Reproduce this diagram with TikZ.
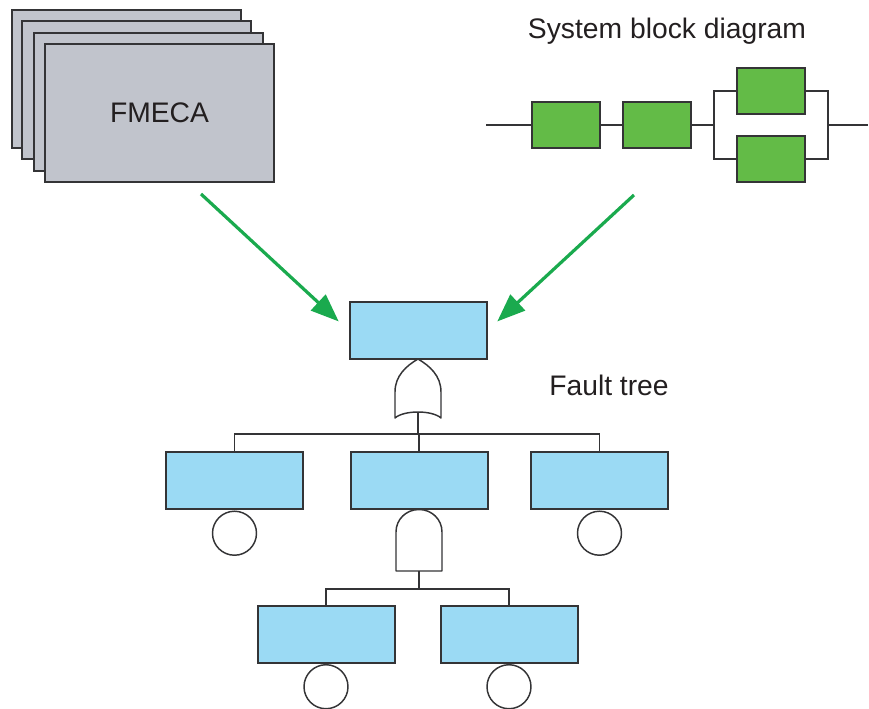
\documentclass[tikz,border=0pt]{standalone}
\usepackage{fontspec}
\setmainfont{Liberation Sans}
\usetikzlibrary{arrows.meta}
\definecolor{inkline}{RGB}{52,52,54}
\definecolor{sheetgray}{RGB}{193,196,204}
\definecolor{blockgreen}{RGB}{99,187,71}
\definecolor{eventblue}{RGB}{155,218,244}
\definecolor{flowgreen}{RGB}{26,170,78}
\definecolor{textdark}{RGB}{35,31,32}
\begin{document}
\begin{tikzpicture}[x=0.75pt,y=-0.75pt,
  sheet/.style={draw=inkline, line width=1.5pt, fill=sheetgray, inner sep=0pt,
    minimum width=171.75pt, minimum height=103.5pt},
  rbd/.style={draw=inkline, line width=1.5pt, fill=blockgreen, inner sep=0pt,
    minimum width=51.5pt, minimum height=34.5pt},
  event/.style={draw=inkline, line width=1.5pt, fill=eventblue, inner sep=0pt,
    minimum width=102.75pt, minimum height=42.75pt},
  basic/.style={circle, draw=inkline, line width=1.1pt, fill=white, inner sep=0pt,
    minimum size=33pt},
  wire/.style={draw=inkline, line width=1.1pt},
  gate/.style={draw=inkline, line width=1.1pt, fill=white, line join=round},
  flow/.style={draw=flowgreen, line width=2.4pt,
    -{Triangle[length=21pt,width=16pt]}, shorten >=10pt},
  lbl/.style={text=textdark, font=\fontsize{21.2}{25}\selectfont, inner sep=0pt}
]
\useasboundingbox (0,0) rectangle (869,709);

% FMECA worksheet stack
\node[sheet] (fm1) at (126,79.5) {};
\node[sheet] (fm2) at (136.5,90) {};
\node[sheet] (fm3) at (148,102) {};
\node[sheet] (fm4) at (159.5,113) {};
\node[lbl] (fmlabel) at (fm4.center) {FMECA};

% System block diagram
\node[lbl] (sbdtitle) at (667,31) {System block diagram};
\coordinate (rbdin) at (486,125);
\coordinate (rbdout) at (868,125);
\coordinate (split) at (714,125);
\coordinate (join) at (828,125);
\node[rbd] (b1) at (566,125) {};
\node[rbd] (b2) at (657,125) {};
\node[rbd] (b3) at (771,91) {};
\node[rbd] (b4) at (771,159) {};
\draw[wire] (rbdin) -- (b1.west);
\draw[wire] (b1.east) -- (b2.west);
\draw[wire] (b2.east) -- (split);
\draw[wire] (b3.west) -| (split) |- (b4.west);
\draw[wire] (b3.east) -| (join) |- (b4.east);
\draw[wire] (join) -- (rbdout);

% Fault tree
\node[event] (top) at (418,330.5) {};
\node[lbl] (ftlabel) at (609,385) {Fault tree};

% OR gate under the top event
\draw[gate] (395,418) -- (395,392)
  .. controls (395,376) and (406,366) .. (418,359)
  .. controls (430,366) and (441,376) .. (441,392)
  -- (441,418)
  .. controls (432,410) and (404,410) .. (395,418) -- cycle;
\coordinate (orout) at (418,412);
\coordinate (bus1) at (418,434);

\node[event] (m1) at (234.5,481) {};
\node[event] (m2) at (419,481) {};
\node[event] (m3) at (599.5,481) {};
\draw[wire] (orout) -- (bus1);
\draw[wire] (m1.north) |- (bus1) -| (m3.north);
\draw[wire] (bus1) -- (bus1 -| m2.north) -- (m2.north);

\node[basic, anchor=north] (c1) at (m1.south) {};
\node[basic, anchor=north] (c3) at (m3.south) {};

% AND gate under the middle event
\draw[gate] (396,571) -- (396,532)
  .. controls (396,519.3) and (406.3,509.5) .. (419,509.5)
  .. controls (431.7,509.5) and (442,519.3) .. (442,532)
  -- (442,571) -- cycle;
\coordinate (andout) at (419,571);
\coordinate (bus2) at (419,589);

\node[event] (n1) at (326,634.5) {};
\node[event] (n2) at (509,634.5) {};
\draw[wire] (andout) -- (bus2);
\draw[wire] (n1.north) |- (bus2) -| (n2.north);

\node[basic, anchor=north] (c4) at (n1.south) {};
\node[basic, anchor=north] (c5) at (n2.south) {};

% Inputs feeding the fault tree
\coordinate (fmsrc) at (201,194);
\coordinate (sbdsrc) at (634,195);
\draw[flow] (fmsrc) -- (top.west);
\draw[flow] (sbdsrc) -- (top.east);
\end{tikzpicture}
\end{document}
